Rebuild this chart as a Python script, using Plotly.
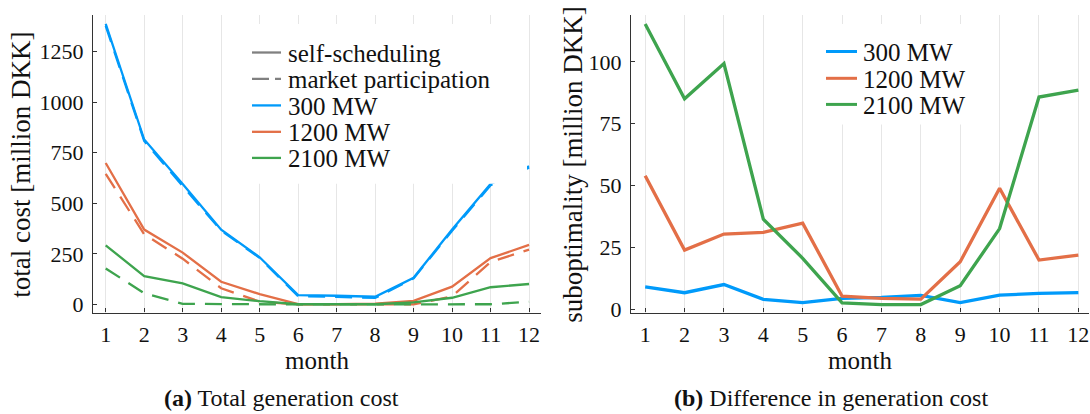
import plotly.graph_objects as go

months = list(range(1, 13))
month_labels = [str(m) for m in months]

# (a) total generation cost [million DKK]
self_300 = [1386, 815, 595, 369, 233, 46, 43, 38, 132, 370, 595, 683]
market_300 = [1377, 808, 585, 365, 230, 41, 38, 32, 129, 364, 589, 676]
self_1200 = [699, 370, 256, 112, 51, 2, 2, 4, 18, 88, 229, 294]
market_1200 = [645, 347, 226, 80, 14, 0, 0, 1, 0, 40, 210, 271]
self_2100 = [292, 140, 104, 36, 16, 1, 1, 1, 10, 33, 85, 101]
market_2100 = [178, 55, 3, 1, 0, 0, 0, 0, 0, 0, 1, 13]

# (b) suboptimality [million DKK]
sub_300 = [9.2, 6.8, 10.1, 4.1, 2.8, 4.5, 4.9, 5.7, 2.8, 5.8, 6.5, 6.8]
sub_1200 = [54.0, 24.0, 30.5, 31.2, 34.9, 5.4, 4.5, 4.2, 19.3, 49.0, 20.0, 22.0]
sub_2100 = [115.3, 85.1, 99.3, 36.5, 20.7, 2.7, 2.0, 2.0, 9.6, 32.7, 85.8, 88.6]

sizes = ["300 MW", "1200 MW", "2100 MW"]
colors = ["#009AFA", "#E36F47", "#3EA44E"]
left_ticks = [0, 250, 500, 750, 1000, 1250]
right_ticks = [0, 25, 50, 75, 100]

W, H = 1090, 414
FONT = "Liberation Serif"
TXT = "#111111"
AX = "#333333"
GRID = "#e6e6e6"


def px(x):
    return x / W


def py(y):
    # pixel row (from top) -> paper fraction
    yy = (y - 1) / 0.972
    return 1 - yy / H


fig = go.Figure()

self_series = [self_300, self_1200, self_2100]
market_series = [market_300, market_1200, market_2100]
for name, col, s, m in zip(sizes, colors, self_series, market_series):
    fig.add_trace(go.Scatter(x=months, y=s, mode="lines", name=name + " self-scheduling",
                             line=dict(color=col, width=2.3), showlegend=False,
                             xaxis="x", yaxis="y"))
    fig.add_trace(go.Scatter(x=months, y=m, mode="lines", name=name + " market participation",
                             line=dict(color=col, width=2.3, dash="17px,10px"), showlegend=False,
                             xaxis="x", yaxis="y"))

for name, col, s in zip(sizes, colors, [sub_300, sub_1200, sub_2100]):
    fig.add_trace(go.Scatter(x=months, y=s, mode="lines", name=name,
                             line=dict(color=col, width=3.3), showlegend=False,
                             xaxis="x2", yaxis="y2"))

xcommon = dict(
    tickvals=months, ticktext=month_labels, showgrid=True, gridcolor=GRID, gridwidth=1,
    zeroline=False, showline=True, linecolor=AX, linewidth=1.2, ticks="inside",
    ticklen=4, tickcolor=AX, tickfont=dict(family=FONT, size=22, color=TXT),
    ticklabelstandoff=2, mirror=False,
)
ycommon = dict(
    showgrid=False, zeroline=False, showline=True, linecolor=AX, linewidth=1.2,
    ticks="inside", ticklen=4, tickcolor=AX,
    tickfont=dict(family=FONT, size=22, color=TXT), ticklabelstandoff=4,
)

ydom = [py(312.3), py(16)]
fig.update_layout(
    width=W, height=H, autosize=False, margin=dict(l=0, r=0, t=0, b=0),
    paper_bgcolor="white", plot_bgcolor="white", showlegend=False,
    xaxis=dict(domain=[px(93), px(541)], range=[0.67, 12.31], anchor="y", **xcommon),
    yaxis=dict(domain=ydom, range=[-40, 1430], tickvals=left_ticks, anchor="x", **ycommon),
    xaxis2=dict(domain=[px(631), px(1089)], range=[0.64, 12.27], anchor="y2", **xcommon),
    yaxis2=dict(domain=ydom, range=[-1.2, 118.9], tickvals=right_ticks, anchor="x2", **ycommon),
)

shapes = []
annotations = []

# Legend (a)
shapes.append(dict(type="rect", xref="paper", yref="paper", x0=px(245), x1=px(527),
                   y0=py(184), y1=py(25), fillcolor="white", line=dict(width=0), layer="above"))
left_entries = [("self-scheduling", "#808080", "solid"),
                ("market participation", "#808080", "17px,6px"),
                (sizes[0], colors[0], "solid"),
                (sizes[1], colors[1], "solid"),
                (sizes[2], colors[2], "solid")]
left_y = [53.3, 79.5, 106, 132.3, 158.3]
for (label, col, dash), yy in zip(left_entries, left_y):
    shapes.append(dict(type="line", xref="paper", yref="paper", x0=px(252), x1=px(281),
                       y0=py(yy), y1=py(yy), line=dict(color=col, width=2.3, dash=dash),
                       layer="above"))
    annotations.append(dict(text=label, xref="paper", yref="paper", x=px(286), y=py(yy + 1),
                            xanchor="left", yanchor="middle", showarrow=False,
                            font=dict(family=FONT, size=25, color=TXT)))

# Legend (b)
shapes.append(dict(type="rect", xref="paper", yref="paper", x0=px(808), x1=px(980),
                   y0=py(125), y1=py(25), fillcolor="white", line=dict(width=0), layer="above"))
right_y = [52.3, 79, 105]
for label, col, yy in zip(sizes, colors, right_y):
    shapes.append(dict(type="line", xref="paper", yref="paper", x0=px(826), x1=px(857),
                       y0=py(yy), y1=py(yy), line=dict(color=col, width=3), layer="above"))
    annotations.append(dict(text=label, xref="paper", yref="paper", x=px(861), y=py(yy + 1),
                            xanchor="left", yanchor="middle", showarrow=False,
                            font=dict(family=FONT, size=25, color=TXT)))

# Axis titles and captions
annotations += [
    dict(text="month", xref="paper", yref="paper", x=px(317), y=py(360), xanchor="center",
         yanchor="middle", showarrow=False, font=dict(family=FONT, size=25, color=TXT)),
    dict(text="month", xref="paper", yref="paper", x=px(860), y=py(360), xanchor="center",
         yanchor="middle", showarrow=False, font=dict(family=FONT, size=25, color=TXT)),
    dict(text="total cost [million DKK]", xref="paper", yref="paper", x=px(21), y=py(165),
         xanchor="center", yanchor="middle", textangle=-90, showarrow=False,
         font=dict(family=FONT, size=27, color=TXT)),
    dict(text="suboptimality [million DKK]", xref="paper", yref="paper", x=px(573), y=py(165),
         xanchor="center", yanchor="middle", textangle=-90, showarrow=False,
         font=dict(family=FONT, size=27, color=TXT)),
    dict(text="<b>(a)</b> Total generation cost", xref="paper", yref="paper", x=px(281),
         y=py(397), xanchor="center", yanchor="middle", showarrow=False,
         font=dict(family=FONT, size=24, color=TXT)),
    dict(text="<b>(b)</b> Difference in generation cost", xref="paper", yref="paper", x=px(831),
         y=py(397), xanchor="center", yanchor="middle", showarrow=False,
         font=dict(family=FONT, size=24, color=TXT)),
]

fig.update_layout(shapes=shapes, annotations=annotations)
fig.write_html("out.html",
               config={"responsive": False, "displayModeBar": False},
               post_script="document.body.style.margin='0';document.body.style.overflow='hidden';")
